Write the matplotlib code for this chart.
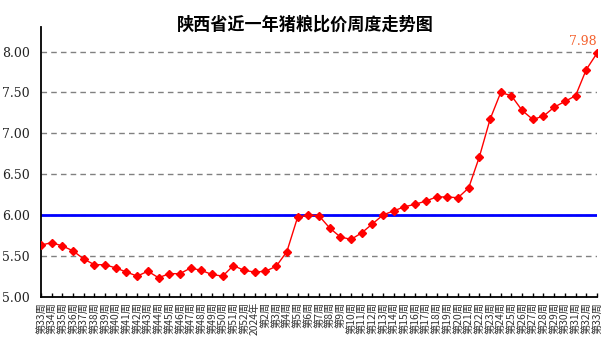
import matplotlib
matplotlib.use("Agg")
import matplotlib.pyplot as plt

plt.rcParams['font.family'] = ['Noto Sans CJK SC', 'DejaVu Sans']

weeks = (["第%d周" % w for w in range(33, 53)] + ["2024年"]
         + ["第%d周" % w for w in range(2, 34)])
ratio = [5.63, 5.66, 5.62, 5.56, 5.46, 5.39, 5.39, 5.35, 5.30, 5.25,
         5.31, 5.23, 5.28, 5.28, 5.35, 5.32, 5.27, 5.25, 5.38, 5.32,
         5.30, 5.31, 5.37, 5.55, 5.97, 6.00, 5.99, 5.84, 5.73, 5.70,
         5.78, 5.89, 6.00, 6.05, 6.10, 6.13, 6.17, 6.22, 6.22, 6.21,
         6.33, 6.71, 7.17, 7.50, 7.46, 7.28, 7.17, 7.21, 7.32, 7.39,
         7.46, 7.78, 7.98]
yticks = [5.00, 5.50, 6.00, 6.50, 7.00, 7.50, 8.00]
balance = 6.00

fig = plt.figure(figsize=(6.11, 3.44), dpi=100)
ax = fig.add_axes([0.067, 0.138, 0.910, 0.783])

x = list(range(len(weeks)))
for yv in yticks[1:]:
    ax.axhline(yv, color='#808080', lw=1, ls=(0, (4, 3)), zorder=1)
ax.axhline(balance, color='#0000FF', lw=2, zorder=2)
ax.plot(x, ratio, color='#FF0000', lw=1, marker='D', ms=4.2, zorder=3)
ax.annotate("%.2f" % ratio[-1], (x[-1], ratio[-1]), xytext=(0, 4),
            textcoords='offset points', ha='right', va='bottom',
            color='#F4622F', fontsize=9, family=['DejaVu Serif'])

ax.set_xlim(0, len(weeks) - 1)
ax.set_ylim(5, 8.3)
ax.set_yticks(yticks)
ax.set_yticklabels(["%.2f" % v for v in yticks], family=['DejaVu Serif'],
                   fontsize=9, color='#222222')
ax.set_xticks(x)
ax.set_xticklabels(weeks, rotation=90, fontsize=7.4, color='#333333')
ax.tick_params(axis='x', direction='in', length=3, width=1, pad=4)
ax.tick_params(axis='y', length=0, pad=8)
for s in ['top', 'right']:
    ax.spines[s].set_visible(False)
for s in ['left', 'bottom']:
    ax.spines[s].set_linewidth(1.3)
    ax.spines[s].set_color('black')

fig.text(0.5, 0.928, "陕西省近一年猪粮比价周度走势图", ha='center',
         va='center', fontsize=12.3, fontweight='bold')

fig.savefig("out.png", dpi=100)
